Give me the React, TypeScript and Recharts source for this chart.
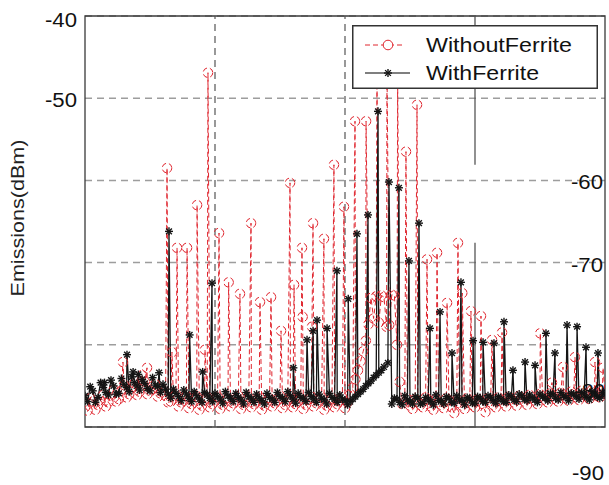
import React from 'react';
import {
  LineChart,
  Line,
  XAxis,
  YAxis,
  CartesianGrid,
  ReferenceLine,
  ReferenceArea,
  Legend,
} from 'recharts';

const RED = '#e0262f';
const BLACK = '#151515';
const FONT = '"Liberation Sans", Arial, sans-serif';

// Axis values
const yTicks = [-90, -80, -70, -60, -50, -40];
const freqDomain = [0, 400];
const dashedGridFreqs = [100, 200];
const solidGridFreq = 300;
const solidGridSpans = [
  [-40, -58.1],
  [-67.6, -90],
];

// Spectrum samples, [frequency (MHz), emission (dBm)]
const withoutFerriteFloor = [
  [0, -87.6], [4, -86.5], [8, -87.9], [12, -86.8], [16, -87.5], [20, -86.2], [24, -86.9], [28, -85.6],
  [32, -86.4], [36, -85.3], [40, -86.1], [44, -85.0], [48, -86.0], [52, -85.4], [56, -86.3], [60, -85.8],
  [64, -87.0], [68, -86.4], [72, -87.5], [76, -86.6], [80, -87.7], [84, -86.8], [88, -87.9], [92, -86.9],
  [96, -87.6], [100, -86.7], [104, -87.8], [108, -86.9], [112, -87.5], [116, -86.6], [120, -87.8], [124, -86.9],
  [128, -87.6], [132, -86.8], [136, -87.9], [140, -86.9], [144, -87.5], [148, -86.7], [152, -87.7], [156, -86.8],
  [160, -87.6], [164, -86.9], [168, -87.8], [172, -86.7], [176, -87.5], [180, -86.8], [184, -87.9], [188, -86.9],
  [192, -87.6], [196, -86.8], [200, -87.7], [204, -86.0], [208, -84.2], [212, -82.0], [216, -79.5], [220, -74.3],
  [224, -74.1], [228, -74.0], [232, -77.8], [236, -73.9], [240, -80.0], [244, -87.2], [248, -86.6], [252, -87.8],
  [256, -86.9], [260, -87.6], [264, -86.7], [268, -87.9], [272, -87.0], [276, -87.7], [280, -86.8], [284, -88.3],
  [288, -87.1], [292, -87.8], [296, -86.9], [300, -87.6], [304, -86.8], [308, -88.2], [312, -87.0], [316, -87.6],
  [320, -86.7], [324, -87.5], [328, -86.6], [332, -87.4], [336, -86.5], [340, -87.3], [344, -86.4], [348, -87.2],
  [352, -86.3], [356, -87.0], [360, -86.2], [364, -86.9], [368, -86.1], [372, -86.8], [376, -86.0], [380, -86.7],
  [384, -85.9], [388, -86.6], [392, -85.8], [396, -86.4], [400, -85.9],
];

const withoutFerriteFloorOdd = [
  [2, -88.0], [6, -86.9], [10, -87.3], [14, -86.1], [18, -87.0], [22, -85.5], [26, -86.6], [30, -84.9],
  [34, -86.0], [38, -84.7], [42, -85.7], [46, -84.5], [50, -85.6], [54, -84.8], [58, -85.9], [62, -86.2],
  [66, -86.9], [70, -86.0], [74, -87.0], [78, -86.2], [82, -87.2], [86, -86.3], [90, -87.4], [94, -86.4],
  [98, -87.2], [102, -86.3], [106, -87.3], [110, -86.5], [114, -87.1], [118, -86.2], [122, -87.3], [126, -86.4],
  [130, -87.2], [134, -86.3], [138, -87.4], [142, -86.5], [146, -87.1], [150, -86.2], [154, -87.3], [158, -86.4],
  [162, -87.2], [166, -86.5], [170, -87.3], [174, -86.3], [178, -87.1], [182, -86.4], [186, -87.4], [190, -86.5],
  [194, -87.2], [198, -86.4], [202, -87.0], [206, -85.2], [210, -83.1], [214, -80.8], [218, -77.5], [222, -76.8],
  [226, -77.3], [230, -74.2], [234, -77.6], [238, -74.0], [242, -84.5], [246, -87.0], [250, -87.4], [254, -86.6],
  [258, -87.3], [262, -86.4], [266, -87.5], [270, -86.6], [274, -87.3], [278, -86.5], [282, -87.6], [286, -86.7],
  [290, -87.4], [294, -86.5], [298, -87.3], [302, -86.6], [306, -87.2], [310, -86.5], [314, -87.3], [318, -86.4],
  [322, -87.1], [326, -86.3], [330, -87.0], [334, -86.2], [338, -86.9], [342, -86.1], [346, -86.8], [350, -86.0],
  [354, -86.7], [358, -85.9], [362, -86.6], [366, -85.8], [370, -86.5], [374, -85.7], [378, -86.4], [382, -85.6],
  [386, -86.3], [390, -85.5], [394, -86.2], [398, -85.6],
];

const withoutFerritePeaks = [
  [29.2, -82.1], [43.8, -83.7], [47.7, -82.8], [63.1, -58.5], [66.9, -80.9], [70.8, -68.2], [78.5, -68.2],
  [86.2, -63.0], [92.3, -80.6], [94.6, -46.9], [103.1, -66.4], [110.5, -72.4], [119.2, -73.8], [127.7, -65.2],
  [134.6, -74.8], [143.1, -74.2], [150.8, -78.3], [157.7, -60.3], [160.8, -72.7], [166.9, -68.2], [167.4, -76.6],
  [174.6, -77.8], [175.4, -65.2], [183.8, -67.1], [191.5, -58.1], [199.2, -63.2], [207.7, -52.8], [216.2, -52.8],
  [224.6, -47.6], [232.3, -46.4], [240.5, -47.9], [246.9, -56.5], [255.4, -50.8], [263.1, -69.6], [270.8, -68.8],
  [278.5, -74.9], [286.9, -67.6], [290.2, -73.7], [296.9, -75.9], [304.6, -76.5], [313.1, -79.4], [320.8, -78.5],
  [350.2, -78.6], [359.2, -84.6], [367.7, -82.7], [376.9, -81.5], [392.3, -82.1], [398.5, -82.8],
];

const withFerriteFloor = [
  [2, -86.9], [6, -85.6], [10, -86.4], [14, -85.2], [18, -86.1], [22, -85.0], [26, -85.9], [30, -84.8],
  [34, -85.7], [38, -84.6], [42, -85.5], [46, -84.7], [50, -85.6], [54, -84.9], [58, -85.8], [62, -85.4],
  [66, -86.5], [70, -85.9], [74, -86.8], [78, -86.0], [82, -86.9], [86, -86.2], [90, -87.0], [94, -86.1],
  [98, -86.9], [102, -86.3], [106, -87.1], [110, -86.2], [114, -86.9], [118, -86.4], [122, -87.2], [126, -86.3],
  [130, -87.0], [134, -86.5], [138, -87.2], [142, -86.4], [146, -87.0], [150, -86.3], [154, -86.9], [158, -86.2],
  [162, -87.1], [166, -86.4], [170, -86.9], [174, -86.3], [178, -87.0], [182, -86.5], [186, -87.2], [190, -86.4],
  [194, -87.0], [198, -86.6], [202, -87.3], [206, -86.6], [210, -86.0], [214, -85.4], [218, -84.7], [222, -84.0],
  [226, -83.4], [230, -82.7], [233, -82.2], [236, -87.2], [240, -86.6], [244, -87.3], [248, -86.7], [252, -87.2],
  [256, -86.5], [260, -87.1], [264, -86.6], [268, -87.3], [272, -86.8], [276, -87.2], [280, -86.5], [284, -87.1],
  [288, -86.7], [292, -87.3], [296, -86.6], [300, -87.1], [304, -86.5], [308, -87.0], [312, -86.4], [316, -87.1],
  [320, -86.6], [324, -87.0], [328, -86.3], [332, -86.9], [336, -86.2], [340, -86.8], [344, -86.4], [348, -87.0],
  [352, -86.3], [356, -86.8], [360, -86.1], [364, -86.7], [368, -86.2], [372, -86.8], [376, -86.0], [380, -86.6],
  [384, -86.1], [388, -86.7], [392, -86.0], [396, -86.5], [400, -86.1],
];

const withFerriteFloorOdd = [
  [0, -86.2], [4, -85.1], [8, -87.0], [12, -84.6], [16, -85.8], [20, -84.3], [24, -86.0], [28, -84.1],
  [32, -85.2], [36, -83.9], [40, -85.0], [44, -84.2], [48, -85.3], [52, -84.0], [56, -85.1], [60, -84.8],
  [64, -86.0], [68, -85.4], [72, -86.3], [76, -85.5], [80, -86.5], [84, -85.7], [88, -86.6], [92, -85.8],
  [96, -86.5], [100, -85.9], [104, -86.6], [108, -85.7], [112, -86.5], [116, -85.9], [120, -86.7], [124, -85.8],
  [128, -86.6], [132, -86.0], [136, -86.8], [140, -85.9], [144, -86.6], [148, -85.8], [152, -86.5], [156, -85.7],
  [160, -86.6], [164, -85.9], [168, -86.5], [172, -85.8], [176, -86.6], [180, -86.0], [184, -86.7], [188, -85.9],
  [192, -86.6], [196, -86.1], [200, -86.8], [204, -86.9], [208, -86.3], [212, -85.7], [216, -85.0], [220, -84.4],
  [224, -83.7], [228, -83.1], [238, -86.5], [242, -87.0], [246, -86.2], [250, -86.9], [254, -86.3], [258, -87.2],
  [262, -86.4], [266, -86.9], [270, -86.1], [274, -86.8], [278, -86.3], [282, -87.0], [286, -86.2], [290, -86.8],
  [294, -86.4], [298, -87.1], [302, -86.3], [306, -86.9], [310, -86.2], [314, -86.8], [318, -86.3], [322, -86.9],
  [326, -86.1], [330, -86.7], [334, -86.0], [338, -86.6], [342, -86.1], [346, -86.7], [350, -86.0], [354, -86.5],
  [358, -85.9], [362, -86.5], [366, -85.8], [370, -86.4], [374, -85.9], [378, -86.3], [382, -85.8], [386, -86.4],
  [390, -85.7], [394, -86.3], [398, -85.8],
];

const withFerritePeaks = [
  [15, -84.6], [32.3, -81.2], [37, -83.3], [41, -83.6], [57, -83.4], [64.6, -66.2], [80.5, -78.8], [90.5, -83.3],
  [97.7, -72.5], [160.3, -82.8], [170.8, -79.4], [175.4, -78.3], [178.5, -77.0], [186.2, -78.0], [193.8, -71.0],
  [202.5, -74.4], [209.2, -66.5], [217.7, -64.2], [225.4, -51.6], [233.8, -60.2], [241.5, -60.9], [249.2, -69.8],
  [256.9, -65.2], [265.4, -78.0], [273.1, -76.0], [282.3, -81.0], [289.2, -72.4], [298.5, -79.5], [306.2, -79.7],
  [314.6, -79.8], [322.3, -77.2], [329.2, -83.1], [338.5, -82.1], [346.2, -82.5], [354.6, -78.6], [361.5, -81.0],
  [370.8, -77.6], [378.5, -77.8], [385.4, -80.3], [394.6, -81.0],
];

const toSeries = (...parts: number[][][]) =>
  parts
    .flat()
    .map(([f, v]) => ({ f, v }))
    .sort((a, b) => a.f - b.f);

const withoutFerrite = toSeries(withoutFerriteFloor, withoutFerriteFloorOdd, withoutFerritePeaks);
const withFerrite = toSeries(withFerriteFloor, withFerriteFloorOdd, withFerritePeaks);

// Where each y tick label sits relative to its gridline
const tickPlacement: Record<string, { side: 'left' | 'right'; dy: number; dx?: number; len: number }> = {
  '-40': { side: 'left', dy: 4, len: 32 },
  '-50': { side: 'left', dy: 1.5, len: 32 },
  '-60': { side: 'right', dy: 2, len: 32 },
  '-70': { side: 'right', dy: 2, len: 32 },
  '-80': { side: 'right', dy: 46, dx: 2, len: 30 },
  '-90': { side: 'right', dy: 46, dx: 1, len: 32 },
};

const PLOT_LEFT = 85;
const PLOT_RIGHT = 605;

const YTick = (props: any) => {
  const { y, payload } = props;
  const p = tickPlacement[String(payload.value)];
  if (!p) return <g />;
  const tx = p.side === 'left' ? PLOT_LEFT - 8 : PLOT_RIGHT - 2 + (p.dx || 0);
  return (
    <text
      x={tx}
      y={y + p.dy}
      dy="0.36em"
      textAnchor="end"
      fontFamily={FONT}
      fontSize={19.5}
      fill="#111"
      textLength={p.len}
      lengthAdjust="spacingAndGlyphs"
    >
      {payload.value}
    </text>
  );
};

const AxisTitle = () => (
  <text
    x={0}
    y={0}
    transform="translate(24, 218) rotate(-90)"
    textAnchor="middle"
    fontFamily={FONT}
    fontSize={18}
    fill="#222"
    textLength={157}
    lengthAdjust="spacingAndGlyphs"
  >
    Emissions(dBm)
  </text>
);

const Star = ({ cx, cy, r = 4 }: { cx: number; cy: number; r?: number }) => {
  const d = r * 0.72;
  return (
    <g stroke={BLACK} strokeWidth={1.4}>
      <line x1={cx - r} y1={cy} x2={cx + r} y2={cy} />
      <line x1={cx} y1={cy - r} x2={cx} y2={cy + r} />
      <line x1={cx - d} y1={cy - d} x2={cx + d} y2={cy + d} />
      <line x1={cx - d} y1={cy + d} x2={cx + d} y2={cy - d} />
    </g>
  );
};

const renderStarDot = (props: any) => {
  const { cx, cy, index } = props;
  if (cx == null || cy == null) return <g key={`star-${index}`} />;
  return (
    <g key={`star-${index}`}>
      <Star cx={cx} cy={cy} />
    </g>
  );
};

const LegendBox = () => (
  <svg width={246} height={64} style={{ display: 'block' }}>
    <rect x={0.75} y={0.75} width={244.5} height={62.5} fill="#fff" stroke="#333" strokeWidth={1.5} />
    <line x1={13} x2={53} y1={20} y2={20} stroke={RED} strokeWidth={1} strokeDasharray="5 3" />
    <circle cx={36} cy={20} r={4.8} fill="#fff" stroke={RED} strokeWidth={1} />
    <text
      x={74}
      y={27}
      fontFamily={FONT}
      fontSize={19.5}
      fill="#111"
      textLength={146}
      lengthAdjust="spacingAndGlyphs"
    >
      WithoutFerrite
    </text>
    <line x1={13} x2={58} y1={48} y2={48} stroke="#555" strokeWidth={1.5} />
    <Star cx={36} cy={48} />
    <text
      x={74}
      y={55}
      fontFamily={FONT}
      fontSize={19.5}
      fill="#111"
      textLength={113}
      lengthAdjust="spacingAndGlyphs"
    >
      WithFerrite
    </text>
  </svg>
);

export default function App() {
  return (
    <div style={{ position: 'absolute', left: 0, top: 0, background: '#fff' }}>
      <LineChart width={609} height={485} margin={{ top: 16, right: 4, bottom: 58, left: 45 }}>
        <CartesianGrid vertical={false} stroke="#9d9d9d" strokeWidth={1.5} strokeDasharray="7 5" />
        <XAxis dataKey="f" type="number" domain={freqDomain} hide allowDataOverflow />
        <YAxis
          type="number"
          domain={[-90, -40]}
          ticks={yTicks}
          width={40}
          axisLine={false}
          tickLine={false}
          tick={<YTick />}
          label={<AxisTitle />}
          allowDataOverflow
        />
        {dashedGridFreqs.map((f) => (
          <ReferenceLine key={f} x={f} stroke="#555" strokeWidth={1.2} strokeDasharray="7 5" />
        ))}
        {solidGridSpans.map(([a, b], i) => (
          <ReferenceLine
            key={`s${i}`}
            segment={[
              { x: solidGridFreq, y: a },
              { x: solidGridFreq, y: b },
            ]}
            stroke="#555"
            strokeWidth={1.3}
          />
        ))}
        <Line
          data={withoutFerrite}
          dataKey="v"
          name="WithoutFerrite"
          type="linear"
          stroke={RED}
          strokeWidth={1}
          strokeDasharray="5 3"
          dot={{ r: 4.8, stroke: RED, strokeWidth: 1, fill: 'none' }}
          activeDot={false}
          isAnimationActive={false}
        />
        <Line
          data={withFerrite}
          dataKey="v"
          name="WithFerrite"
          type="linear"
          stroke={BLACK}
          strokeWidth={1.3}
          dot={renderStarDot}
          activeDot={false}
          isAnimationActive={false}
        />
        <ReferenceArea
          x1={freqDomain[0]}
          x2={freqDomain[1]}
          y1={-90}
          y2={-40}
          fill="none"
          fillOpacity={0}
          stroke="#3a3a3a"
          strokeWidth={1.3}
        />
        <Legend
          layout="vertical"
          align="center"
          verticalAlign="middle"
          content={<LegendBox />}
          wrapperStyle={{ position: 'absolute', left: 352, top: 25, width: 246, height: 64 }}
        />
      </LineChart>
    </div>
  );
}
